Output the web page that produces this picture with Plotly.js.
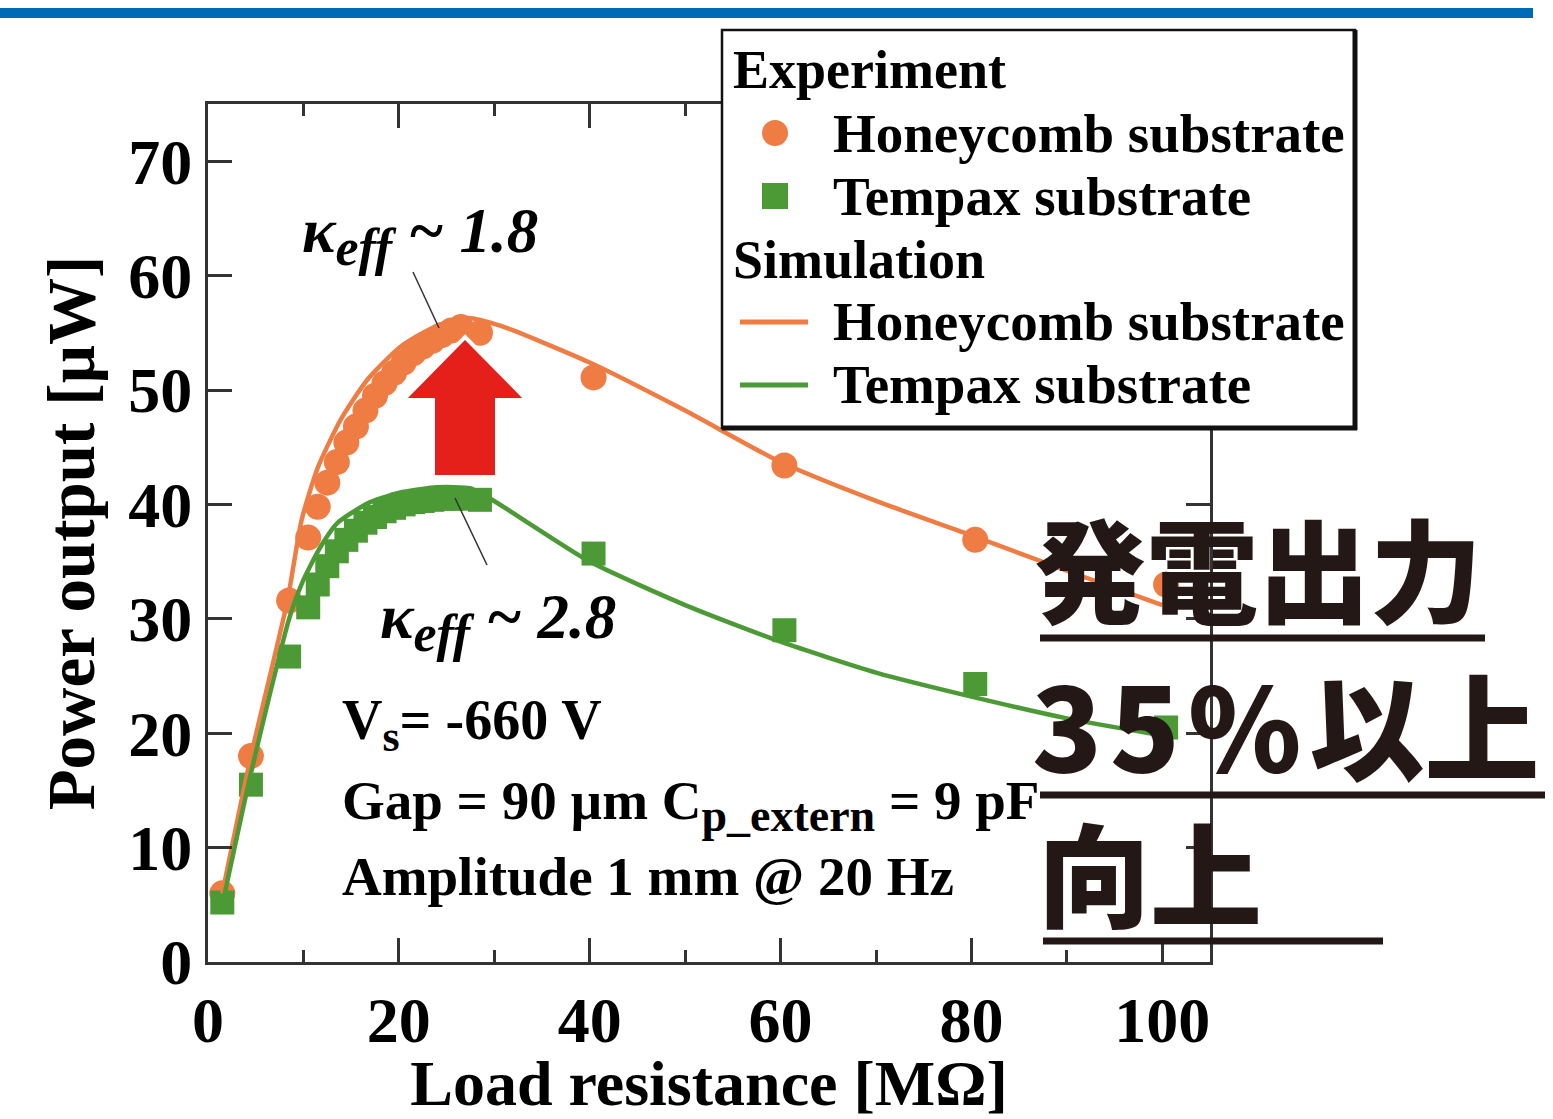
<!DOCTYPE html>
<html>
<head>
<meta charset="utf-8">
<script src="https://cdn.plot.ly/plotly-3.0.1.min.js"></script>
<style>html,body{margin:0;padding:0;background:#fff;}#chart{width:1553px;height:1119px;}</style>
</head>
<body>
<div id="chart"></div>
<script>
// ---- data ----
const expX = [1.5, 4.5, 8.5, 10.5, 11.5, 12.5, 13.5, 14.5, 15.5, 16.5, 17.5, 18.5, 19.5, 20.5, 21.5, 22.5, 23.5, 24.5, 25.5, 26.5, 28.5, 40.4, 60.4, 80.4, 100.4];
const expHoneycomb = [6, 18, 31.6, 37.1, 39.8, 41.9, 43.7, 45.4, 46.8, 48.2, 49.5, 50.6, 51.5, 52.4, 53.2, 53.8, 54.3, 54.8, 55.2, 55.5, 55.0, 51.1, 43.4, 36.9, 33.0];
const expTempax = [5.2, 15.5, 26.7, 31.0, 33.0, 34.6, 35.9, 36.9, 37.7, 38.4, 38.9, 39.4, 39.7, 40.0, 40.2, 40.3, 40.4, 40.5, 40.5, 40.5, 40.4, 35.7, 29.0, 24.3, 20.5];

const simHoneyX = [1.5, 4.5, 8.3, 9.8, 11.5, 13.9, 16.7, 20.2, 23.7, 27.2, 30.7, 40, 50, 60, 70, 80, 90, 100];
const simHoneyY = [6, 18, 31.5, 38.6, 43.2, 47.4, 50.9, 53.8, 55.5, 56.3, 55.6, 52.4, 48.2, 43.7, 40.3, 37.3, 34.2, 31.2];
const simTempX = [1.5, 4.5, 8.5, 10, 11.8, 13.6, 17, 20.5, 24, 27.5, 29.6, 40, 50, 60, 70, 80, 90, 100];
const simTempY = [5, 16.5, 30, 33.4, 36.3, 38.4, 40.2, 41.1, 41.5, 41.4, 40.5, 35.0, 31.2, 28.0, 25.3, 23.2, 21.3, 19.8];

const xTicks = [0, 20, 40, 60, 80, 100];
const xMinorTicks = [10, 30, 50, 70, 90];
const yTicks = [0, 10, 20, 30, 40, 50, 60, 70];

const legendHeaders = ["Experiment", "Simulation"];
const seriesNames = ["Honeycomb substrate", "Tempax substrate"];

// ---- styling ----
const ORANGE = "#EE7C43";
const GREEN = "#4B9A36";
const SERIF = "Liberation Serif, Times New Roman, serif";
const W = 1553, H = 1119;
const M = {l: 208, r: 343, t: 104, b: 157};
const PW = W - M.l - M.r, PH = H - M.t - M.b;
// pixel -> paper helpers for decorations
const X = px => (px - M.l) / PW;
const Y = py => (H - M.b - py) / PH;

const traces = [
  {x: expX, y: expHoneycomb, mode: "markers", type: "scatter", name: seriesNames[0],
   marker: {symbol: "circle", size: 26, color: ORANGE}},
  {x: expX, y: expTempax, mode: "markers", type: "scatter", name: seriesNames[1],
   marker: {symbol: "square", size: 24, color: GREEN}},
  {x: simHoneyX, y: simHoneyY, mode: "lines", type: "scatter", name: seriesNames[0],
   line: {color: ORANGE, width: 4.5, shape: "spline", smoothing: 0.6}},
  {x: simTempX, y: simTempY, mode: "lines", type: "scatter", name: seriesNames[1],
   line: {color: GREEN, width: 4.5, shape: "spline", smoothing: 0.6}}
];

const shapes = [];
const annotations = [];
// top blue band
shapes.push({type: "rect", xref: "paper", yref: "paper", x0: X(0), x1: X(1533), y0: Y(8), y1: Y(18),
  fillcolor: "#006AB6", line: {width: 0}, layer: "above"});
// red arrow
const ap = [[465,337],[527,400],[497,400],[497,477],[433,477],[433,400],[403,400]];
shapes.push({type: "path", xref: "paper", yref: "paper",
  path: "M" + ap.map(p => X(p[0]) + "," + Y(p[1])).join(" L") + " Z",
  fillcolor: "#E5201B", line: {color: "#ffffff", width: 4}, layer: "above"});
// leader lines
shapes.push({type: "line", xref: "paper", yref: "paper", x0: X(413), y0: Y(272), x1: X(439), y1: Y(328), line: {color: "#333", width: 1.5}, layer: "above"});
shapes.push({type: "line", xref: "paper", yref: "paper", x0: X(455), y0: Y(498), x1: X(487), y1: Y(565), line: {color: "#333", width: 1.5}, layer: "above"});
// legend box
shapes.push({type: "rect", xref: "paper", yref: "paper", x0: X(722), x1: X(1355), y0: Y(30), y1: Y(428),
  fillcolor: "#ffffff", line: {color: "#111", width: 2.5}, layer: "above"});
shapes.push({type: "line", xref: "paper", yref: "paper", x0: X(1355), x1: X(1355), y0: Y(30), y1: Y(430), line: {color: "#111", width: 5}, layer: "above"});
shapes.push({type: "line", xref: "paper", yref: "paper", x0: X(722), x1: X(1357), y0: Y(428), y1: Y(428), line: {color: "#111", width: 5}, layer: "above"});
// legend symbols
shapes.push({type: "circle", xref: "paper", yref: "paper", x0: X(762), x1: X(788), y0: Y(120), y1: Y(146), fillcolor: ORANGE, line: {width: 0}, layer: "above"});
shapes.push({type: "rect", xref: "paper", yref: "paper", x0: X(762), x1: X(788), y0: Y(183), y1: Y(209), fillcolor: GREEN, line: {width: 0}, layer: "above"});
shapes.push({type: "line", xref: "paper", yref: "paper", x0: X(740), x1: X(808), y0: Y(322), y1: Y(322), line: {color: ORANGE, width: 5}, layer: "above"});
shapes.push({type: "line", xref: "paper", yref: "paper", x0: X(740), x1: X(808), y0: Y(385), y1: Y(385), line: {color: GREEN, width: 5}, layer: "above"});
// headline underlines
shapes.push({type: "line", xref: "paper", yref: "paper", x0: X(1040), x1: X(1485), y0: Y(638), y1: Y(638), line: {color: "#231815", width: 7}, layer: "above"});
shapes.push({type: "line", xref: "paper", yref: "paper", x0: X(1040), x1: X(1545), y0: Y(795), y1: Y(795), line: {color: "#231815", width: 7}, layer: "above"});
shapes.push({type: "line", xref: "paper", yref: "paper", x0: X(1043), x1: X(1383), y0: Y(941), y1: Y(941), line: {color: "#231815", width: 7}, layer: "above"});

function txt(text, px, py, size, opts) {
  opts = opts || {};
  annotations.push(Object.assign({
    text: text, xref: "paper", yref: "paper", x: X(px), y: Y(py), showarrow: false,
    xanchor: "left", yanchor: "middle", align: "left",
    font: {family: SERIF, size: size, color: "#000", weight: "bold"}
  }, opts));
}
// legend texts
txt(legendHeaders[0], 731, 70, 54);
txt(seriesNames[0], 831, 133, 55);
txt(seriesNames[1], 831, 196, 55);
txt(legendHeaders[1], 731, 260, 54);
txt(seriesNames[0], 831, 322, 55);
txt(seriesNames[1], 831, 385, 55);
// kappa labels
txt("<i>κ<sub><span style=\"font-size:52px\">eff</span></sub> ~ 1.8</i>", 300, 236, 63);
txt("<i>κ<sub><span style=\"font-size:52px\">eff</span></sub> ~ 2.8</i>", 378, 622, 63);
// conditions
txt("V<sub><span style=\"font-size:44px\">s</span></sub>= -660 V", 340, 725, 56);
txt("Gap = 90 µm C<sub><span style=\"font-size:46px\">p_extern</span></sub> = 9 pF", 340, 805, 55);
txt("Amplitude 1 mm @ 20 Hz", 340, 876, 55);
// headline (Japanese)
const JP = {family: "Noto Sans CJK JP, sans-serif", size: 112, color: "#231815", weight: 900};
txt("発電出力", 1032, 566, 112, {font: JP});
txt("<span style=\"letter-spacing:8px\">35%</span>以上", 1030, 722, 115, {font: Object.assign({}, JP, {size: 115})});
txt("向上", 1036, 870, 112, {font: JP});

const axisCommon = {
  showgrid: false, zeroline: false, showline: true, linecolor: "#333", linewidth: 3,
  mirror: "ticks", ticks: "inside", ticklen: 24, tickwidth: 3, tickcolor: "#333",
  tickfont: {family: SERIF, size: 64, color: "#000", weight: "bold"}
};

const layout = {
  width: W, height: H, margin: {l: M.l, r: M.r, t: M.t, b: M.b, pad: 0},
  paper_bgcolor: "#fff", plot_bgcolor: "#fff", showlegend: false,
  xaxis: Object.assign({}, axisCommon, {
    range: [0, 105], tickvals: xTicks, ticktext: xTicks.map(String),
    minor: {tickvals: xMinorTicks, ticks: "inside", ticklen: 12, tickwidth: 3, tickcolor: "#333"},
    title: {text: "Load resistance [MΩ]", font: {family: SERIF, size: 64, color: "#000", weight: "bold"}, standoff: 22}
  }),
  yaxis: Object.assign({}, axisCommon, {
    range: [0, 75], tickvals: yTicks, ticktext: yTicks.map(String),
    title: {text: "Power output [µW]", font: {family: SERIF, size: 67, color: "#000", weight: "bold"}, standoff: 12}
  }),
  shapes: shapes, annotations: annotations
};

Plotly.newPlot("chart", traces, layout, {displayModeBar: false, staticPlot: true});
</script>
</body>
</html>
